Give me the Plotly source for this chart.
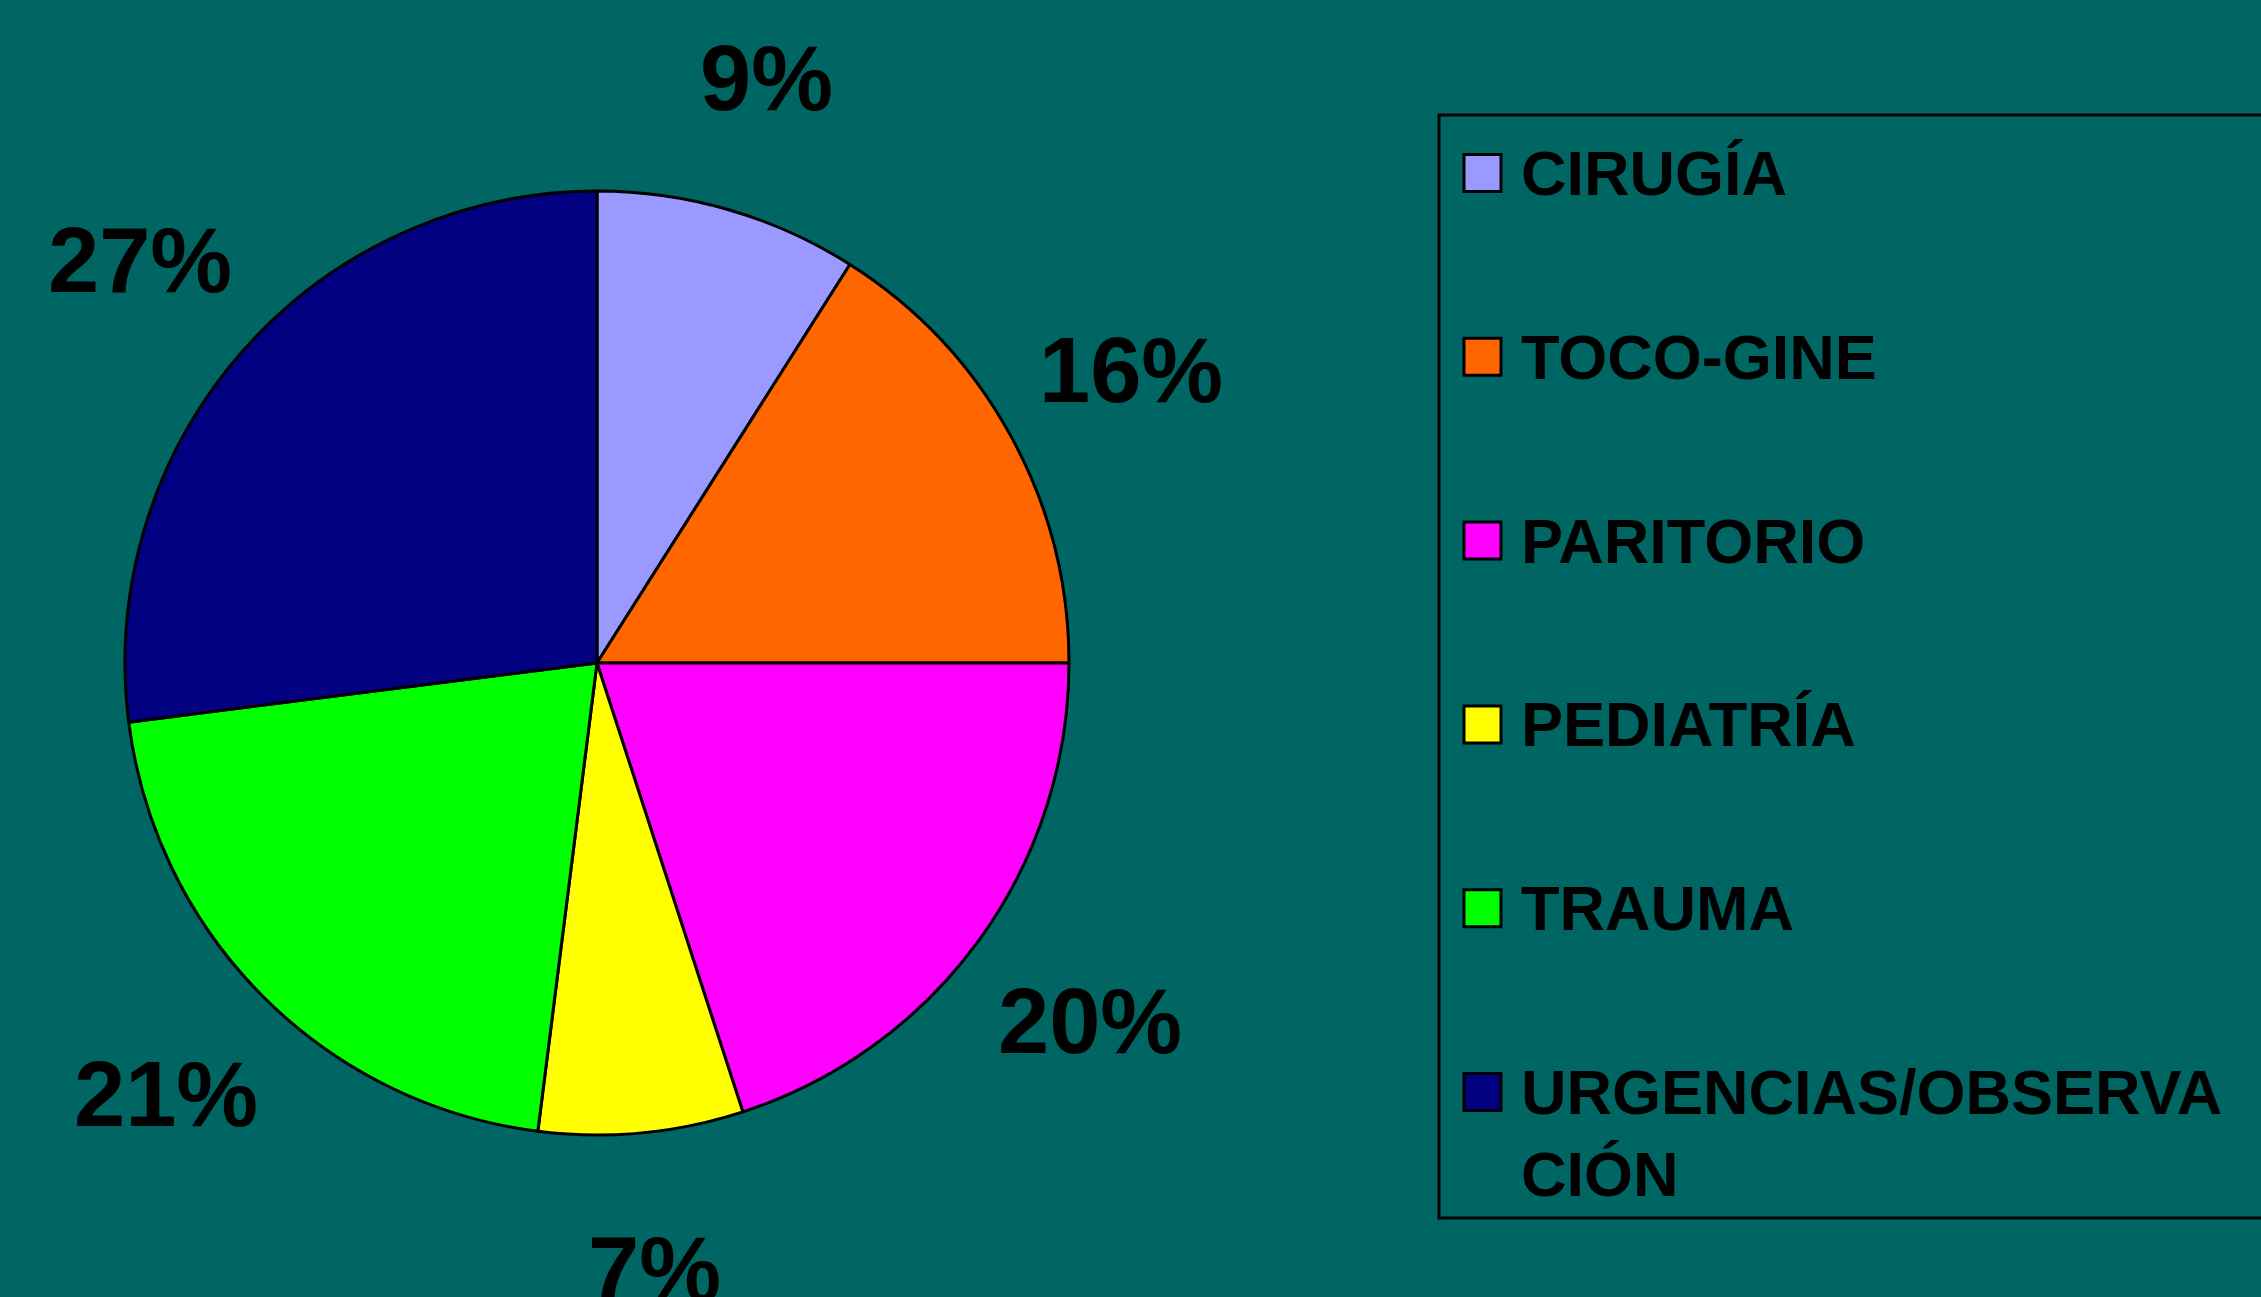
import math
import plotly.graph_objects as go

# ---- data ----
categories = ["CIRUGÍA", "TOCO-GINE", "PARITORIO", "PEDIATRÍA", "TRAUMA", "URGENCIAS/OBSERVACIÓN"]
values = [9, 16, 20, 7, 21, 27]
colors = ["#9999FF", "#FF6600", "#FF00FF", "#FFFF00", "#00FF00", "#000080"]

W, H = 2261, 1297
BG = "#006664"
FONT = "Liberation Sans, Arial, sans-serif"

# pie geometry (pixels)
cx, cy, R = 597, 663, 472
dom_x = [(cx - R) / W, (cx + R) / W]
dom_y = [1 - (cy + R) / H, 1 - (cy - R) / H]

fig = go.Figure()
fig.add_trace(go.Pie(
    labels=categories,
    values=values,
    marker=dict(colors=colors, line=dict(color="black", width=3)),
    sort=False,
    direction="clockwise",
    rotation=0,
    textinfo="none",
    hoverinfo="label+percent",
    showlegend=False,
    domain=dict(x=dom_x, y=dom_y),
))

annotations = []
shapes = []

# percentage labels placed outside the pie, computed from the values
total = sum(values)
cum = 0
LR = 1.29 * R
for v in values:
    theta = 2 * math.pi * (cum + v / 2) / total
    cum += v
    px = cx + LR * math.sin(theta)
    py = cy - LR * math.cos(theta)
    pct = round(100 * v / total)
    annotations.append(dict(
        x=px / W, y=1 - py / H, xref="paper", yref="paper",
        text=f"{pct}%", showarrow=False, xanchor="center", yanchor="middle",
        font=dict(family=FONT, size=92, color="black", weight="bold"),
    ))

# legend box
box_l, box_t, box_b = 1439, 115, 1218
shapes.append(dict(type="rect", xref="paper", yref="paper",
                   x0=box_l / W, x1=1.01, y0=1 - box_b / H, y1=1 - box_t / H,
                   line=dict(color="black", width=3), fillcolor="rgba(0,0,0,0)"))

row0, row_gap = 173, 183.8
sq = 37
sq_x0 = 1464
text_x = 1519
for i, (cat, col) in enumerate(zip(categories, colors)):
    yc = row0 + i * row_gap
    shapes.append(dict(type="rect", xref="paper", yref="paper",
                       x0=sq_x0 / W, x1=(sq_x0 + sq) / W,
                       y0=1 - (yc + sq / 2) / H, y1=1 - (yc - sq / 2) / H,
                       line=dict(color="black", width=3), fillcolor=col))
    label = cat
    ty = yc
    if len(cat) > 17:
        label = cat[:17] + "<br>" + cat[17:]
        ty = yc + 41
    annotations.append(dict(
        x=text_x / W, y=1 - ty / H, xref="paper", yref="paper",
        text=label, showarrow=False, xanchor="left", yanchor="middle", align="left",
        font=dict(family=FONT, size=63, color="black", weight="bold"),
    ))

fig.update_layout(
    width=W, height=H,
    margin=dict(l=0, r=0, t=0, b=0),
    paper_bgcolor=BG,
    plot_bgcolor=BG,
    shapes=shapes,
    annotations=annotations,
    showlegend=False,
)

fig.write_html("out.html", config={"displayModeBar": False},
               post_script="document.body.style.margin='0';document.body.style.overflow='hidden';")
